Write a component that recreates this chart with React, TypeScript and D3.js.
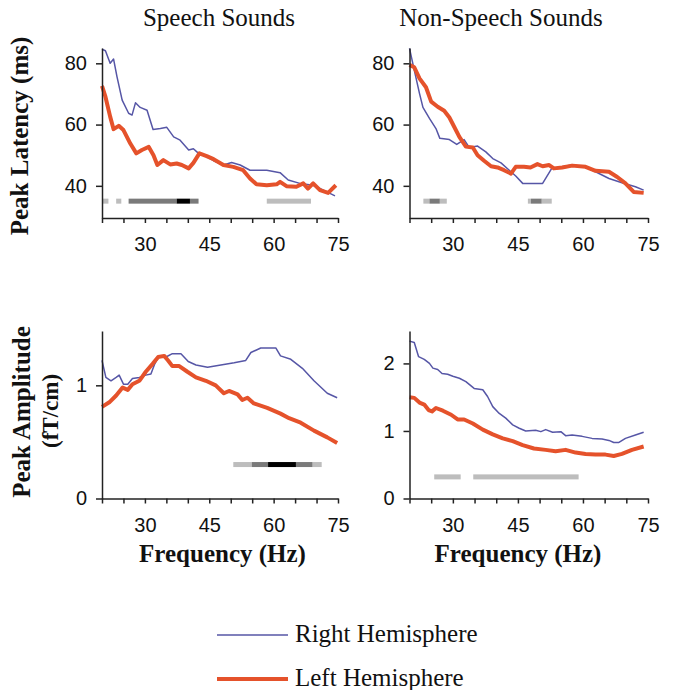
import React, { useEffect, useRef } from "react";
import * as d3 from "d3";

// frequency (Hz) / value pairs
const speechLatRight: [number, number][] = [
  [20, 84.6], [20.8, 84.1], [21.9, 80], [22.7, 81.4], [23.5, 75.6], [24.7, 68], [26.2, 63.7], [27, 63.1],
  [27.8, 67.1], [28.9, 65.6], [30.5, 64.7], [31.9, 58.4], [33.6, 58.7], [35.1, 59.1], [36.7, 56], [38.2, 54.9],
  [40.2, 51.7], [41.3, 52.1], [42.5, 50.6], [44.4, 49.5], [46, 48.2], [48.3, 46.8], [50.2, 47.6], [52.2, 46.8],
  [54.5, 45.1], [58.4, 45.1], [61.5, 44.3], [63.4, 41.9], [66.1, 40.8], [69.2, 40.2], [71.6, 38.6], [74.3, 36.7],
];
const speechLatLeft: [number, number][] = [
  [20, 72.6], [20.8, 69.1], [21.9, 62.6], [22.7, 58.5], [23.9, 59.6], [25, 58.2], [26.6, 53.8], [28, 50.6],
  [29.3, 51.7], [30.9, 52.7], [32, 50], [32.9, 46.8], [34.3, 48.4], [35.9, 47], [37.4, 47.3], [38.6, 46.8],
  [40.2, 45.7], [41.3, 47.5], [42.7, 50.6], [44.4, 49.7], [46, 48.7], [48.3, 46.8], [50.6, 46.2], [52.9, 45.1],
  [54.5, 42.4], [56, 40.5], [58.4, 40.2], [60.7, 40.5], [61.5, 41.3], [63, 39.9], [65.3, 39.7], [66.9, 40.8],
  [68, 39.1], [69.2, 40.8], [70.8, 38.6], [72.7, 37.7], [74.5, 40.2],
];
const nonLatRight: [number, number][] = [
  [20, 84.9], [21.1, 77.8], [22.3, 70.2], [23.1, 65.6], [24.6, 62], [26.1, 58.7], [27, 55.5], [29.2, 55.1],
  [30.9, 53.5], [32.6, 55.1], [33.8, 52.5], [35.7, 53], [37.6, 51.1], [39.2, 48.9], [41.1, 47.5], [43, 45.1],
  [44.5, 43.2], [46.1, 40.8], [50.7, 40.8], [52.8, 45.7], [55.2, 46.2], [57.5, 46.8], [60.6, 46.2], [62.9, 44.6],
  [66, 42.4], [69, 41], [72.1, 39.7], [74, 38.6],
];
const nonLatLeft: [number, number][] = [
  [20, 79.5], [21.1, 78.7], [22.3, 75.1], [23.8, 72.2], [25, 67.5], [26.5, 65.8], [28, 64.5], [29.2, 62.3],
  [30.3, 59.3], [31.5, 56], [33, 52.8], [34.6, 52.5], [35.7, 50], [37.2, 48.2], [38.8, 46.4], [40.3, 46],
  [41.8, 45.1], [43.4, 44], [44.5, 46.2], [46.4, 46.2], [47.9, 46], [49.5, 47.1], [50.7, 46.4], [52.2, 46.8],
  [53.3, 45.7], [55.2, 46], [57.5, 46.6], [60.6, 46.2], [62.9, 44.9], [66, 44.6], [67.9, 42.9], [69.8, 40.8],
  [71.7, 38], [74, 37.7],
];
const speechAmpRight: [number, number][] = [
  [20, 1.22], [20.9, 1.07], [22.1, 1.04], [23.3, 1.07], [24, 1.09], [25, 1.01], [26, 1.01], [27.1, 1.06],
  [28.7, 1.07], [30.2, 1.09], [31.4, 1.1], [32.3, 1.19], [33.3, 1.26], [34.9, 1.25], [36.4, 1.28], [38.4, 1.28],
  [40.1, 1.21], [41.9, 1.18], [44.6, 1.16], [47.7, 1.18], [50.8, 1.2], [53.5, 1.22], [54.7, 1.29], [57, 1.33],
  [60.5, 1.33], [61.6, 1.26], [64, 1.23], [66.7, 1.15], [69.4, 1.04], [72.5, 0.93], [74.8, 0.89],
];
const speechAmpLeft: [number, number][] = [
  [20, 0.81], [21.7, 0.85], [23.3, 0.91], [24.8, 0.98], [26, 0.96], [27.1, 1.01], [28.7, 1.04], [30.2, 1.12],
  [31.8, 1.19], [33.1, 1.25], [34.5, 1.26], [35.4, 1.22], [36.4, 1.17], [38, 1.17], [39.9, 1.12], [41.9, 1.07],
  [44.2, 1.04], [46.5, 1.0], [48.4, 0.93], [49.6, 0.95], [51.6, 0.92], [52.7, 0.87], [53.9, 0.89], [55.4, 0.84],
  [58.5, 0.8], [61.6, 0.75], [63.6, 0.71], [66.3, 0.67], [69.4, 0.6], [72.5, 0.54], [74.8, 0.49],
];
const nonAmpRight: [number, number][] = [
  [20, 2.33], [21.1, 2.31], [22.1, 2.1], [23.4, 2.06], [24.6, 2.0], [25.4, 1.93], [26.5, 1.91], [27.5, 1.85],
  [28.8, 1.84], [30, 1.81], [31.5, 1.78], [33, 1.73], [34.9, 1.63], [36.9, 1.61], [38, 1.51], [39.2, 1.36],
  [40.7, 1.26], [42.2, 1.19], [43.8, 1.09], [45.3, 1.04], [46.8, 1.0], [49.1, 1.01], [50.3, 0.99], [51.4, 1.02],
  [53, 0.98], [54.9, 0.99], [56, 0.93], [57.5, 0.94], [59.8, 0.92], [62.1, 0.89], [64.4, 0.88], [66, 0.86],
  [67.1, 0.83], [68.3, 0.83], [69.8, 0.89], [72.1, 0.94], [74, 0.98],
];
const nonAmpLeft: [number, number][] = [
  [20, 1.5], [21.1, 1.49], [22.3, 1.42], [23.4, 1.39], [24.4, 1.31], [25.2, 1.29], [26.1, 1.34], [27.7, 1.3],
  [29.6, 1.24], [31.1, 1.17], [32.6, 1.17], [34.6, 1.11], [36.9, 1.02], [39.2, 0.95], [41.5, 0.89], [43.8, 0.85],
  [46.1, 0.79], [48.7, 0.74], [51.4, 0.72], [53.7, 0.7], [56, 0.72], [58.3, 0.68], [60.6, 0.66], [62.9, 0.65],
  [65.2, 0.65], [67.1, 0.63], [69, 0.66], [71.3, 0.72], [74, 0.77],
];

// significance bars: [from Hz, to Hz, shade]
const speechLatSig: [number, number, string][] = [
  [20.2, 21.5, "light"], [23.3, 24.5, "light"], [26.2, 37.4, "mid"], [37.4, 40.5, "dark"], [40.5, 42.5, "mid"], [58.4, 68.7, "light"],
];
const nonLatSig: [number, number, string][] = [
  [23.2, 24.6, "light"], [24.6, 27.0, "mid"], [27.0, 28.6, "light"], [47.3, 48.0, "light"], [48.0, 50.5, "mid"], [50.5, 52.8, "light"],
];
const speechAmpSig: [number, number, string][] = [
  [50.6, 54.9, "light"], [54.9, 58.7, "mid"], [58.7, 65.2, "dark"], [65.2, 69.1, "mid"], [69.1, 71.2, "light"],
];
const nonAmpSig: [number, number, string][] = [[25.7, 31.8, "light"], [34.7, 59.0, "light"]];

const xTickLabels = [30, 45, 60, 75];
const latTicks = [40, 60, 80];
const speechAmpTicks = [0, 1];
const nonAmpTicks = [0, 1, 2];

const shadeColor: Record<string, string> = { light: "#bdbdbd", mid: "#7a7a7a", dark: "#000" };
const BLUE = "#5656a6";
const RED = "#e5522b";

export default function App() {
  const ref = useRef<SVGSVGElement>(null);

  useEffect(() => {
    const svg = d3.select(ref.current);
    svg.selectAll("*").remove();

    const panels = [
      { x0: 102, x1: 338, y0: 218, y1: 48, dom: [29.5, 85], ticks: latTicks, right: speechLatRight, left: speechLatLeft, sig: speechLatSig, sigY: 35 },
      { x0: 409.5, x1: 648, y0: 218, y1: 48, dom: [29.5, 85], ticks: latTicks, right: nonLatRight, left: nonLatLeft, sig: nonLatSig, sigY: 35 },
      { x0: 102, x1: 338, y0: 498.5, y1: 331, dom: [0, 1.48], ticks: speechAmpTicks, right: speechAmpRight, left: speechAmpLeft, sig: speechAmpSig, sigY: 0.3 },
      { x0: 409.5, x1: 648, y0: 498.5, y1: 331, dom: [0, 2.48], ticks: nonAmpTicks, right: nonAmpRight, left: nonAmpLeft, sig: nonAmpSig, sigY: 0.32 },
    ];

    panels.forEach(p => {
      const x = d3.scaleLinear().domain([20, 75]).range([p.x0, p.x1]);
      const y = d3.scaleLinear().domain(p.dom).range([p.y0, p.y1]);
      const g = svg.append("g");

      // significance bars
      g.selectAll("rect.sig")
        .data(p.sig)
        .join("rect")
        .attr("x", d => x(d[0]))
        .attr("width", d => x(d[1]) - x(d[0]))
        .attr("y", y(p.sigY) - 2.5)
        .attr("height", 5)
        .attr("fill", d => shadeColor[d[2]]);

      const line = d3.line<[number, number]>().x(d => x(d[0])).y(d => y(d[1]));
      g.append("path").datum(p.right).attr("d", line).attr("fill", "none")
        .attr("stroke", BLUE).attr("stroke-width", 1.5).attr("stroke-linejoin", "round");
      g.append("path").datum(p.left).attr("d", line).attr("fill", "none")
        .attr("stroke", RED).attr("stroke-width", 4).attr("stroke-linejoin", "round");

      // x axis
      const gx = g.append("g").attr("transform", `translate(0,${p.y0})`)
        .call(d3.axisBottom(x).tickValues(d3.range(20, 76, 5)).tickSize(5).tickSizeOuter(0)
          .tickFormat(d => (xTickLabels.includes(+d) ? String(d) : "")));
      gx.select(".domain").attr("stroke", "#222").attr("stroke-width", 1.5);
      gx.selectAll(".tick line").attr("stroke", "#222").attr("stroke-width", 1.5);
      gx.selectAll(".tick text").attr("font-family", "Liberation Sans, Arial, sans-serif")
        .attr("font-size", 20).attr("fill", "#111").attr("y", 19).attr("dy", "0.71em");

      // y axis
      const gy = g.append("g").attr("transform", `translate(${p.x0},0)`)
        .call(d3.axisLeft(y).tickValues(p.ticks).tickSize(6).tickSizeOuter(0).tickFormat(d3.format("d")));
      gy.select(".domain").attr("stroke", "#222").attr("stroke-width", 1.5);
      gy.selectAll(".tick line").attr("stroke", "#222").attr("stroke-width", 1.5);
      gy.selectAll(".tick text").attr("font-family", "Liberation Sans, Arial, sans-serif")
        .attr("font-size", 20).attr("fill", "#111").attr("x", -15);
    });

    const serif = "Liberation Serif, Times New Roman, serif";
    svg.append("text").attr("x", 219).attr("y", 26).attr("text-anchor", "middle")
      .attr("font-family", serif).attr("font-size", 25).attr("fill", "#111").text("Speech Sounds");
    svg.append("text").attr("x", 501).attr("y", 26).attr("text-anchor", "middle")
      .attr("font-family", serif).attr("font-size", 25).attr("fill", "#111").text("Non-Speech Sounds");

    [222.5, 518].forEach(cx => {
      svg.append("text").attr("x", cx).attr("y", 562).attr("text-anchor", "middle")
        .attr("font-family", serif).attr("font-weight", "bold").attr("font-size", 25).attr("fill", "#111")
        .text("Frequency (Hz)");
    });

    svg.append("text").attr("transform", "translate(28,136) rotate(-90)").attr("text-anchor", "middle")
      .attr("font-family", serif).attr("font-weight", "bold").attr("font-size", 25).attr("fill", "#111")
      .text("Peak Latency (ms)");
    svg.append("text").attr("transform", "translate(29.5,412) rotate(-90)").attr("text-anchor", "middle")
      .attr("font-family", serif).attr("font-weight", "bold").attr("font-size", 25).attr("fill", "#111")
      .text("Peak Amplitude");
    svg.append("text").attr("transform", "translate(57.5,411) rotate(-90)").attr("text-anchor", "middle")
      .attr("font-family", serif).attr("font-weight", "bold").attr("font-size", 23).attr("fill", "#111")
      .text("(fT/cm)");

    // legend
    const legend = [
      { label: "Right Hemisphere", color: BLUE, w: 1.5, y: 635 },
      { label: "Left Hemisphere", color: RED, w: 4, y: 679 },
    ];
    legend.forEach(l => {
      svg.append("line").attr("x1", 217).attr("x2", 288).attr("y1", l.y).attr("y2", l.y)
        .attr("stroke", l.color).attr("stroke-width", l.w);
      svg.append("text").attr("x", 295).attr("y", l.y + 7).attr("font-family", serif)
        .attr("font-size", 25).attr("fill", "#111").text(l.label);
    });
  }, []);

  return <svg ref={ref} width={676} height={690} style={{ position: "absolute", left: 0, top: 0, background: "#fff" }} />;
}
